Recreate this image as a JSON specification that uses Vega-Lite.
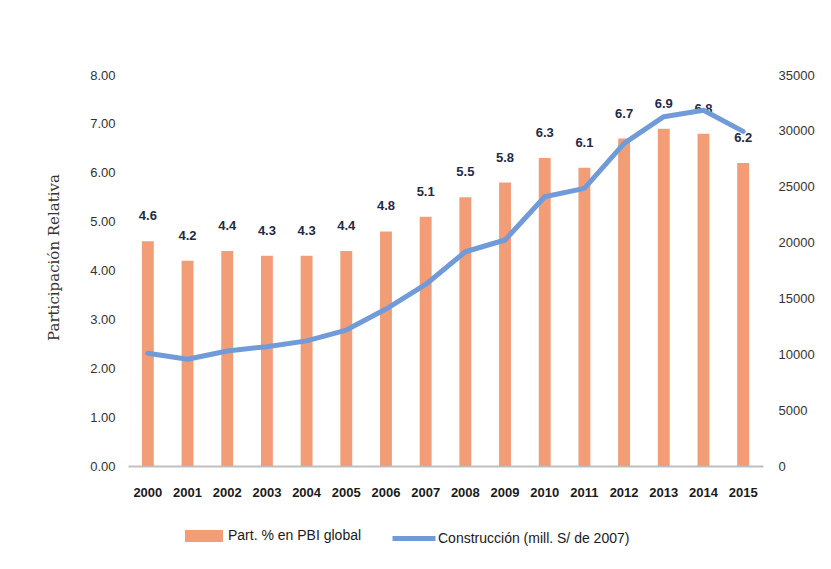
{
  "$schema": "https://vega.github.io/schema/vega-lite/v6.json",
  "width": 635,
  "height": 391,
  "autosize": {"type": "none"},
  "padding": {"left": 128, "top": 75, "right": 68, "bottom": 103},
  "background": "white",
  "config": {
    "view": {"stroke": null},
    "font": "Liberation Sans, sans-serif"
  },
  "data": {
    "values": [
      {"anio": "2000", "pct": 4.6, "constr": 10100},
      {"anio": "2001", "pct": 4.2, "constr": 9550},
      {"anio": "2002", "pct": 4.4, "constr": 10300},
      {"anio": "2003", "pct": 4.3, "constr": 10680},
      {"anio": "2004", "pct": 4.3, "constr": 11200},
      {"anio": "2005", "pct": 4.4, "constr": 12170},
      {"anio": "2006", "pct": 4.8, "constr": 14050},
      {"anio": "2007", "pct": 5.1, "constr": 16250},
      {"anio": "2008", "pct": 5.5, "constr": 19180},
      {"anio": "2009", "pct": 5.8, "constr": 20230},
      {"anio": "2010", "pct": 6.3, "constr": 24100},
      {"anio": "2011", "pct": 6.1, "constr": 24850},
      {"anio": "2012", "pct": 6.7, "constr": 28880},
      {"anio": "2013", "pct": 6.9, "constr": 31270},
      {"anio": "2014", "pct": 6.8, "constr": 31850},
      {"anio": "2015", "pct": 6.2, "constr": 29950}
    ]
  },
  "encoding": {
    "x": {
      "field": "anio",
      "type": "ordinal",
      "scale": {"paddingInner": 0.7, "paddingOuter": 0.35},
      "axis": {
        "title": null,
        "labelAngle": 0,
        "ticks": false,
        "labelPadding": 20,
        "labelFontSize": 13,
        "labelFontWeight": "bold",
        "labelColor": "#1a1a1a",
        "domainColor": "#bfbfbf",
        "domainWidth": 2
      }
    }
  },
  "layer": [
    {
      "encoding": {
        "y": {
          "field": "pct",
          "type": "quantitative",
          "scale": {"domain": [0, 8], "nice": false},
          "axis": {
            "title": "Participación Relativa",
            "titleFont": "DejaVu Serif, Liberation Serif, serif",
            "titleFontSize": 15,
            "titleFontWeight": "normal",
            "titleColor": "#333333",
            "titleX": -70,
            "titleY": 182,
            "titleBaseline": "alphabetic",
            "values": [0, 1, 2, 3, 4, 5, 6, 7, 8],
            "format": ".2f",
            "grid": false,
            "domain": false,
            "ticks": false,
            "labelPadding": 13,
            "labelFontSize": 13,
            "labelColor": "#333333"
          }
        }
      },
      "layer": [
        {
          "mark": {"type": "bar"},
          "encoding": {
            "fill": {
              "datum": "Part. % en PBI global",
              "scale": {"range": ["#F39D77"]},
              "legend": {
                "title": null,
                "orient": "none",
                "legendX": 57,
                "legendY": 442,
                "symbolType": "M-1,-0.32H1V0.32H-1Z",
                "symbolSize": 1444,
                "symbolStrokeWidth": 0,
                "labelFontSize": 14,
                "labelLimit": 300,
                "labelColor": "#1a1a1a",
                "labelOffset": 5
              }
            }
          }
        },
        {
          "mark": {
            "type": "text",
            "baseline": "middle",
            "dy": -25,
            "fontSize": 13,
            "fontWeight": "bold",
            "color": "#1F2A48"
          },
          "encoding": {
            "text": {"field": "pct", "type": "quantitative", "format": ".1f"}
          }
        }
      ]
    },
    {
      "mark": {
        "type": "line",
        "strokeWidth": 5,
        "strokeCap": "round",
        "strokeJoin": "round"
      },
      "encoding": {
        "y": {
          "field": "constr",
          "type": "quantitative",
          "scale": {"domain": [0, 35000], "nice": false},
          "axis": {
            "orient": "right",
            "title": null,
            "values": [0, 5000, 10000, 15000, 20000, 25000, 30000, 35000],
            "format": "d",
            "grid": false,
            "domain": false,
            "ticks": false,
            "labelPadding": 15,
            "labelFontSize": 13,
            "labelColor": "#333333"
          }
        },
        "stroke": {
          "datum": "Construcción (mill. S/ de 2007)",
          "scale": {"range": ["#719BD8"]},
          "legend": {
            "title": null,
            "orient": "none",
            "legendX": 262,
            "legendY": 439.5,
            "symbolType": "stroke",
            "symbolSize": 1849,
            "symbolStrokeWidth": 5,
            "labelFontSize": 14,
            "labelLimit": 300,
            "labelColor": "#1a1a1a",
            "labelOffset": 0
          }
        }
      }
    }
  ],
  "resolve": {"scale": {"y": "independent"}}
}
